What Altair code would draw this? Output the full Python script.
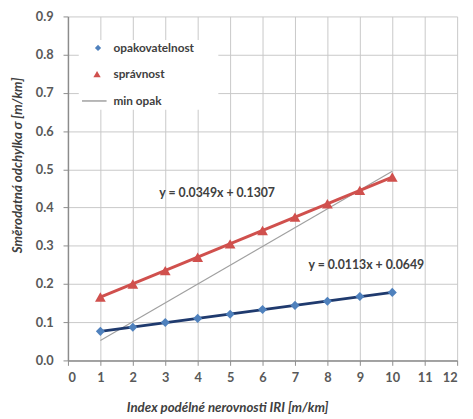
import altair as alt
import pandas as pd

# ---- data ----
iri = [1, 2, 3, 4, 5, 6, 7, 8, 9, 10]
opakovatelnost = [0.076, 0.087, 0.099, 0.110, 0.121, 0.133, 0.144, 0.155, 0.167, 0.178]
spravnost = [0.166, 0.200, 0.235, 0.270, 0.305, 0.340, 0.375, 0.410, 0.445, 0.480]
min_opak_x = [1, 10]
min_opak_y = [0.052, 0.495]
x_ticks = list(range(0, 13))
y_ticks = [0.0, 0.1, 0.2, 0.3, 0.4, 0.5, 0.6, 0.7, 0.8, 0.9]
eq_text = ["y = 0.0349x + 0.1307", "y = 0.0113x + 0.0649"]
eq_x = [4.6, 9.2]
eq_y = [0.438, 0.249]
legend_labels = ["opakovatelnost", "správnost", "min opak"]

FONT = "Lato"
BLUE = "#4F81BD"
NAVY = "#1F3A6E"
RED = "#D0504D"
GRAY = "#A0A0A0"

df_b = pd.DataFrame({"x": iri, "y": opakovatelnost})
df_r = pd.DataFrame({"x": iri, "y": spravnost})
df_m = pd.DataFrame({"x": min_opak_x, "y": min_opak_y})
df_eq = pd.DataFrame({"x": eq_x, "y": eq_y, "t": eq_text})

xs = alt.Scale(domain=[0, 12], nice=False, zero=False)
ys = alt.Scale(domain=[0, 0.9], nice=False)

xax = alt.Axis(values=x_ticks, format="d", title="Index podélné nerovnosti IRI [m/km]",
               titleX=162, titleY=52, titleAnchor="middle", titleAlign="center",
               titleBaseline="alphabetic", labelPadding=6)
yax = alt.Axis(values=y_ticks, format=".1f", title="Směrodatná odchylka σ  [m/km]",
               titleX=-47, titleY=151, titleAngle=-90, titleAlign="center",
               titleBaseline="alphabetic", labelPadding=10)

X = alt.X("x:Q", scale=xs, axis=xax)
Y = alt.Y("y:Q", scale=ys, axis=yax)

legend_box = alt.Chart(pd.DataFrame({"a": [0]})).mark_rect(fill="white").encode(
    x=alt.value(11), x2=alt.value(153), y=alt.value(24), y2=alt.value(95))

min_line = alt.Chart(df_m).mark_line(color=GRAY, strokeWidth=1.2).encode(x=X, y=Y)

b_pts = alt.Chart(df_b).mark_point(shape="diamond", filled=True, size=85, color=BLUE, opacity=1).encode(x=X, y=Y)
b_fit = alt.Chart(df_b).transform_regression("x", "y", extent=[1, 10]).mark_line(
    color=NAVY, strokeWidth=3).encode(x=X, y=Y)

r_pts = alt.Chart(df_r).mark_point(shape="triangle-up", filled=True, size=120, color=RED, opacity=1).encode(x=X, y=Y)
r_fit = alt.Chart(df_r).transform_regression("x", "y", extent=[1, 10]).mark_line(
    color=RED, strokeWidth=3).encode(x=X, y=Y)

eqs = alt.Chart(df_eq).mark_text(font=FONT, fontSize=12.5, fontWeight="bold", color="#404040").encode(
    x=X, y=Y, text="t:N")

leg_d = alt.Chart(pd.DataFrame({"a": [0]})).mark_point(shape="diamond", filled=True, size=40, color=BLUE, opacity=1).encode(
    x=alt.value(30.6), y=alt.value(32))
leg_t = alt.Chart(pd.DataFrame({"a": [0]})).mark_point(shape="triangle-up", filled=True, size=55, color=RED, opacity=1).encode(
    x=alt.value(29.6), y=alt.value(58.7))
leg_l = alt.Chart(pd.DataFrame({"a": [0]})).mark_rule(color=GRAY, strokeWidth=1.5).encode(
    x=alt.value(14.3), x2=alt.value(39.3), y=alt.value(86))
leg_txt = alt.Chart(pd.DataFrame({"t": legend_labels, "yy": [32, 58.7, 86]})).mark_text(
    font=FONT, fontSize=12, fontWeight="bold", color="#404040", align="left", baseline="middle").encode(
    x=alt.value(46.3), y=alt.Y("yy:Q", scale=None), text="t:N")

chart = alt.layer(legend_box, min_line, b_fit, b_pts, r_fit, r_pts, eqs,
                  leg_d, leg_t, leg_l, leg_txt).properties(
    width=396, height=350,
    autosize=alt.AutoSizeParams(type="none"),
    padding={"left": 61, "top": 5, "right": 8, "bottom": 55},
    background="white",
).configure_view(stroke="transparent").configure_axis(
    grid=True, gridColor="#C8C8C8", gridWidth=1,
    domainColor="#8C8C8C", domainWidth=1.5,
    tickColor="#8C8C8C", tickSize=5,
    labelFont=FONT, labelFontSize=13, labelFontWeight="bold", labelColor="#595959",
    titleFont=FONT, titleFontSize=13.5, titleFontStyle="italic", titleFontWeight="bold", titleColor="#404040",
)

chart.save("out.html", embed_options={"renderer": "svg", "actions": False})
